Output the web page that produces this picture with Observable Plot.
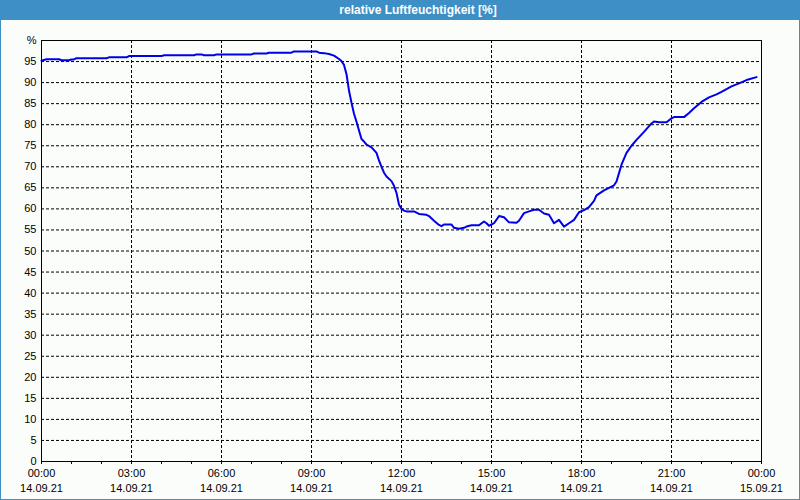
<!DOCTYPE html>
<html>
<head>
<meta charset="utf-8">
<script src="https://cdn.jsdelivr.net/npm/d3@7"></script>
<script src="https://cdn.jsdelivr.net/npm/@observablehq/plot@0.6"></script>
<style>
  html, body { margin: 0; padding: 0; background: #fbfdfb; }
  #wrap { position: relative; width: 800px; height: 500px; background: #fbfdfb; overflow: hidden; }
  #title { height: 20px; width: 800px; background: #3d8fc6; color: #ffffff; font: bold 12px "Liberation Sans", Arial, sans-serif; line-height: 20px; box-sizing: border-box; padding-left: 36px; text-align: center; }
  #border { position: absolute; left: 0; top: 0; width: 800px; height: 500px; box-sizing: border-box; border: 1px solid #3d8fc6; border-top: none; pointer-events: none; }
  svg { display: block; }
</style>
</head>
<body>
<div id="wrap">
  <div id="title">relative Luftfeuchtigkeit [%]</div>
  <div id="chart"></div>
  <div id="border"></div>
</div>
<script>
const times = ["00:00","00:10","00:35","00:40","00:55","01:00","01:05","01:10","02:10","02:15","02:50","02:55","04:00","04:05","05:05","05:10","05:20","05:25","05:45","05:50","07:00","07:05","07:30","07:35","08:20","08:25","09:10","09:15","09:25","09:35","09:45","09:55","10:00","10:05","10:10","10:15","10:20","10:25","10:30","10:35","10:40","10:45","10:50","11:00","11:10","11:15","11:20","11:25","11:30","11:40","11:45","11:50","11:55","12:00","12:05","12:10","12:25","12:35","12:50","12:55","13:05","13:15","13:20","13:25","13:40","13:45","13:55","14:05","14:10","14:20","14:35","14:45","14:50","14:55","15:05","15:15","15:25","15:35","15:50","15:55","16:05","16:15","16:25","16:35","16:45","16:55","17:05","17:15","17:25","17:35","17:45","17:55","18:05","18:15","18:25","18:30","18:45","18:55","19:05","19:10","19:15","19:20","19:30","19:40","19:50","20:05","20:20","20:25","20:35","20:50","21:00","21:05","21:25","21:35","21:45","22:00","22:15","22:30","22:40","23:00","23:15","23:30","23:50"];
const humidity = [95.2,95.55,95.55,95.3,95.3,95.5,95.5,95.8,95.8,96.0,96.0,96.3,96.3,96.5,96.5,96.7,96.7,96.5,96.5,96.7,96.7,96.9,96.9,97.1,97.1,97.4,97.4,97.1,97.0,96.8,96.4,95.6,95.1,94.2,92.0,88.1,85.2,82.6,80.7,78.6,76.6,76.0,75.3,74.6,73.3,71.5,70.0,68.6,67.7,66.6,65.5,63.8,61.0,60.0,59.6,59.4,59.4,58.8,58.6,58.3,57.2,56.2,55.9,56.3,56.3,55.5,55.3,55.5,55.8,56.1,56.1,57.0,56.6,56.0,56.6,58.3,58.0,56.8,56.7,57.2,59.0,59.4,59.8,59.8,58.9,58.6,56.6,57.4,55.8,56.6,57.4,59.2,59.7,60.4,61.9,63.2,64.4,65.0,65.6,66.5,68.5,70.5,73.3,75.0,76.4,78.3,80.3,80.75,80.6,80.6,81.5,81.8,81.8,82.8,83.9,85.4,86.5,87.2,87.8,89.1,89.8,90.6,91.3];
const yTicks = [0,5,10,15,20,25,30,35,40,45,50,55,60,65,70,75,80,85,90,95];
const yUnit = "%";
const xStart = "2021-09-14T00:00";
const xEnd = "2021-09-15T00:00";
const xLabelHours = [0,3,6,9,12,15,18,21,24];

const t0 = new Date(xStart + "Z");
const t1 = new Date(xEnd + "Z");
const toDate = s => { const [h, m] = s.split(":").map(Number); return new Date(t0.getTime() + (h * 60 + m) * 60000); };
const data = times.map((t, i) => ({time: toDate(t), value: humidity[i]}));
const hourDate = h => new Date(t0.getTime() + h * 3600000);
const labelTicks = xLabelHours.map(hourDate);
const hourTicks = d3.range(0, 25).map(hourDate);
const gridX = xLabelHours.slice(1, -1).map(hourDate);
const gridY = yTicks.filter(d => d > 0);
const fmtTime = d3.utcFormat("%H:%M");
const fmtDate = d3.utcFormat("%d.%m.%y");

const chart = Plot.plot({
  width: 800,
  height: 480,
  marginLeft: 41,
  marginRight: 39,
  marginTop: 20,
  marginBottom: 39,
  style: {background: "transparent", fontFamily: "'Liberation Sans', Arial, sans-serif", fontSize: "11px", color: "#000"},
  x: {type: "utc", domain: [t0, t1]},
  y: {domain: [0, 100]},
  marks: [
    Plot.ruleY(gridY, {stroke: "#000", strokeDasharray: "3,2", strokeWidth: 1}),
    Plot.ruleX(gridX, {stroke: "#000", strokeDasharray: "3,2", strokeWidth: 1}),
    Plot.axisY({ticks: [...yTicks, 100], tickFormat: d => d === 100 ? yUnit : d, tickSize: 0, tickPadding: 5, label: null, fill: "#000"}),
    Plot.axisX({ticks: hourTicks, tickFormat: () => "", tickSize: 3, stroke: "#000", label: null}),
    Plot.axisX({ticks: labelTicks, tickFormat: fmtTime, tickSize: 0, tickPadding: 8, label: null, fill: "#000"}),
    Plot.axisX({ticks: labelTicks, tickFormat: fmtDate, tickSize: 0, tickPadding: 23, label: null, fill: "#000"}),
    Plot.line(data, {x: "time", y: "value", stroke: "#0000e8", strokeWidth: 2}),
    Plot.frame({stroke: "#000", strokeWidth: 1})
  ]
});
document.getElementById("chart").appendChild(chart);
</script>
</body>
</html>
